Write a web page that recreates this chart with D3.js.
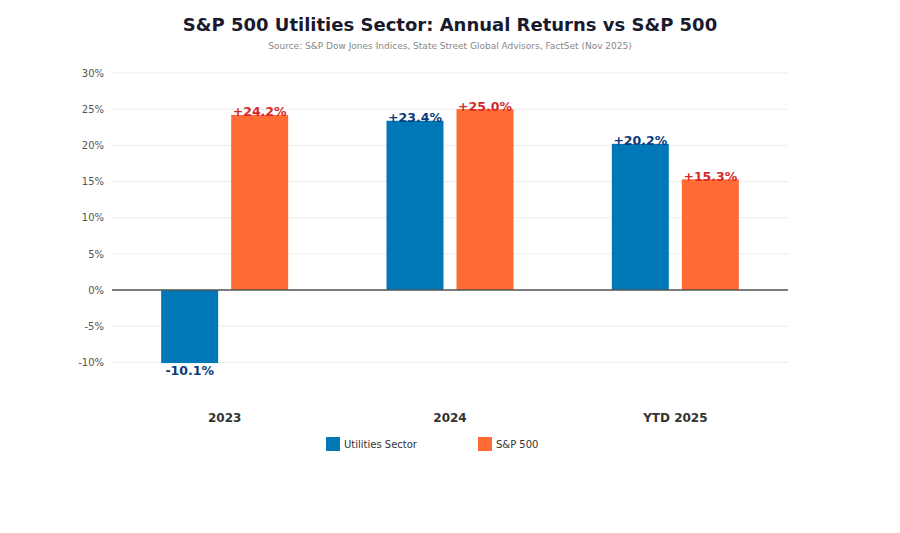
<!DOCTYPE html>
<html>
<head>
<meta charset="utf-8">
<script src="https://cdn.jsdelivr.net/npm/d3@7"></script>
<style>
    body { margin: 0; background: #fff; font-family: "DejaVu Sans", sans-serif; }
</style>
</head>
<body>
<div id="main"></div>
<script>
// chart data
var categories = ['2023', '2024', 'YTD 2025'];
var seriesNames = ['Utilities Sector', 'S&P 500'];
var utilities = [-10.1, 23.4, 20.2];
var sp500 = [24.2, 25.0, 15.3];
var yTicks = [-10, -5, 0, 5, 10, 15, 20, 25, 30];

var colors = ['#0077b6', '#ff6b35'];
var labelColors = ['#0a3a7a', '#d62828'];

var width = 900, height = 533;
let margin = { top: 73, right: 112, bottom: 134.5, left: 112 };
var innerW = width - margin.left - margin.right,
    innerH = height - margin.top - margin.bottom;

var svg = d3.select('#main').append('svg')
    .attr('width', width)
    .attr('height', height);

svg.append('text')
    .attr('x', width / 2).attr('y', 31)
    .attr('text-anchor', 'middle')
    .style('font-size', '18px').style('font-weight', 'bold')
    .style('fill', '#1a1a2e')
    .text('S&P 500 Utilities Sector: Annual Returns vs S&P 500');

svg.append('text')
    .attr('x', width / 2).attr('y', 49)
    .attr('text-anchor', 'middle')
    .style('font-size', '9px').style('fill', '#888')
    .text('Source: S&P Dow Jones Indices, State Street Global Advisors, FactSet (Nov 2025)');

var g = svg.append('g')
    .attr('transform', 'translate(' + margin.left + ',' + margin.top + ')');

var yScale = d3.scaleLinear().domain([-15, 30]).range([innerH, 0]);
var xScale = d3.scaleBand().domain(categories).range([0, innerW]).padding(0);
var xSub = d3.scaleBand().domain(seriesNames)
    .range([xScale.bandwidth() / 2 - 63.5, xScale.bandwidth() / 2 + 63.5])
    .paddingInner(0.186);

// grid
g.selectAll('.grid').data(yTicks).enter().append('line')
    .attr('x1', 0).attr('x2', innerW)
    .attr('y1', d => yScale(d)).attr('y2', d => yScale(d))
    .attr('stroke', '#ececec').attr('stroke-width', 1);

// y axis labels
var yAxis = d3.axisLeft(yScale).tickValues(yTicks)
    .tickFormat(d => d + '%').tickSize(0).tickPadding(8);
var yAxisEl = g.append('g').call(yAxis);
yAxisEl.select('.domain').remove();
yAxisEl.selectAll('text').style('font-size', '10px').style('fill', '#555')
    .style('font-family', '"DejaVu Sans", sans-serif');

// bars
var rows = categories.map((c, i) => ({ cat: c, vals: [utilities[i], sp500[i]] }));
var grp = g.selectAll('.grp').data(rows).enter().append('g')
    .attr('transform', d => 'translate(' + xScale(d.cat) + ',0)');

grp.selectAll('rect')
    .data(d => d.vals.map((v, j) => ({ name: seriesNames[j], v: v, j: j })))
    .enter().append('rect')
    .attr('x', d => xSub(d.name))
    .attr('width', xSub.bandwidth())
    .attr('y', d => yScale(Math.max(0, d.v)))
    .attr('height', d => Math.abs(yScale(d.v) - yScale(0)))
    .attr('fill', d => colors[d.j]);

grp.selectAll('.lbl')
    .data(d => d.vals.map((v, j) => ({ name: seriesNames[j], v: v, j: j })))
    .enter().append('text')
    .attr('x', d => xSub(d.name) + xSub.bandwidth() / 2)
    .attr('y', d => d.v >= 0 ? yScale(d.v) + 1.5 : yScale(d.v) + 12)
    .attr('text-anchor', 'middle')
    .style('font-size', '12.5px').style('font-weight', 'bold')
    .style('fill', d => labelColors[d.j])
    .text(d => (d.v >= 0 ? '+' : '') + d.v.toFixed(1) + '%');

// zero line
g.append('line')
    .attr('x1', 0).attr('x2', innerW)
    .attr('y1', yScale(0)).attr('y2', yScale(0))
    .attr('stroke', '#555').attr('stroke-width', 1.5);

// category labels
var xAxis = d3.axisBottom(xScale).tickSize(0).tickPadding(15);
var xAxisEl = g.append('g').attr('transform', 'translate(0,' + innerH + ')').call(xAxis);
xAxisEl.select('.domain').remove();
xAxisEl.selectAll('text').style('font-size', '12px').style('font-weight', 'bold')
    .style('fill', '#333').style('font-family', '"DejaVu Sans", sans-serif');

// legend
var legendX = [326, 478];
var legend = svg.selectAll('.legend').data(seriesNames).enter().append('g')
    .attr('transform', (d, i) => 'translate(' + legendX[i] + ',437)');
legend.append('rect').attr('width', 14).attr('height', 14)
    .attr('fill', (d, i) => colors[i]);
legend.append('text').attr('x', 18).attr('y', 11)
    .style('font-size', '10px').style('fill', '#333')
    .text(d => d);
</script>
</body>
</html>
